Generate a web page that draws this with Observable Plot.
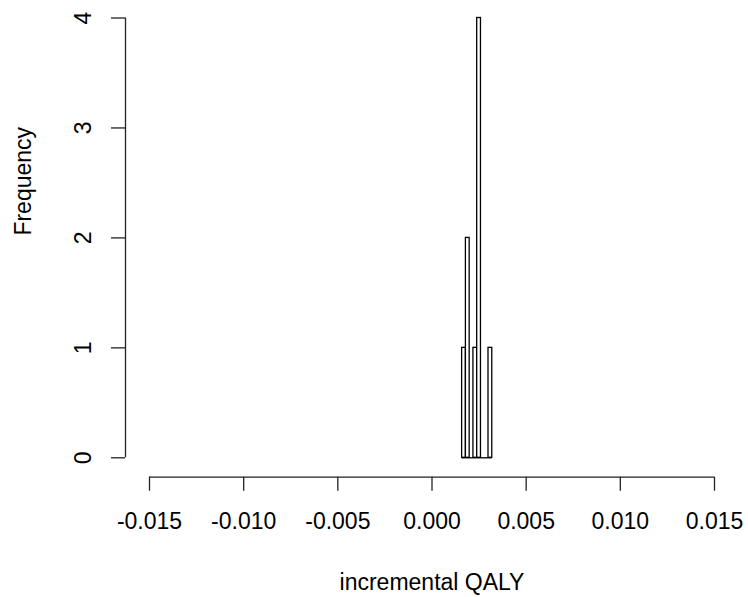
<!DOCTYPE html>
<html>
<head>
<meta charset="utf-8">
<script src="https://cdn.jsdelivr.net/npm/d3@7"></script>
<script src="https://cdn.jsdelivr.net/npm/@observablehq/plot@0.6"></script>
<style>
  html, body { margin: 0; padding: 0; background: #fff; }
  #chart svg { display: block; }
</style>
</head>
<body>
<div id="chart"></div>
<script>
// Histogram data
const breaks = [0.0016, 0.0018, 0.0020, 0.0022, 0.0024, 0.0026, 0.0028, 0.0030, 0.0032];
const counts = [1, 2, 0, 1, 4, 0, 0, 1];
const xTicks = [-0.015, -0.010, -0.005, 0.000, 0.005, 0.010, 0.015];
const yTicks = [0, 1, 2, 3, 4];
const xLabel = "incremental QALY";
const yLabel = "Frequency";

const bins = counts.map((c, i) => ({x1: breaks[i], x2: breaks[i + 1], count: c}));

const font = "Liberation Sans, Arial, sans-serif";
const fs = 23;
const axisGapX = 24;   // R-style detached axes
const axisGapY = 19.4;

const chart = Plot.plot({
  width: 748,
  height: 597,
  marginLeft: 125,
  marginRight: 34,
  marginTop: 17.5,
  marginBottom: 120.3,
  style: {fontFamily: font, fontSize: fs + "px", color: "black", background: "white"},
  x: {domain: [xTicks[0], xTicks[xTicks.length - 1]], insetLeft: axisGapX},
  y: {domain: [yTicks[0], yTicks[yTicks.length - 1]], insetBottom: axisGapY},
  marks: [
    Plot.rectY(bins, {x1: "x1", x2: "x2", y1: 0, y2: "count", fill: "white", stroke: "black", strokeWidth: 1.3}),
    Plot.ruleY([0], {x1: breaks[0], x2: breaks[breaks.length - 1], stroke: "black", strokeWidth: 1.3}),
    // x axis
    Plot.ruleY([yTicks[0]], {x1: xTicks[0], x2: xTicks[xTicks.length - 1], dy: axisGapY, stroke: "#222", strokeWidth: 1.3}),
    Plot.axisX({ticks: xTicks, tickSize: 14, tickPadding: 21, tickFormat: d => d.toFixed(3),
      fontSize: fs, fontFamily: font, label: null, stroke: "#222", strokeWidth: 1.3}),
    // y axis
    Plot.ruleX([xTicks[0]], {y1: yTicks[0], y2: yTicks[yTicks.length - 1], dx: -axisGapX, stroke: "#222", strokeWidth: 1.3}),
    Plot.axisY({ticks: yTicks, tickSize: 14, tickPadding: 21, tickRotate: -90, tickFormat: d => String(d),
      fontSize: fs, fontFamily: font, label: null, stroke: "#222", strokeWidth: 1.3}),
    // titles
    Plot.text([xLabel], {x: (xTicks[0] + xTicks[xTicks.length - 1]) / 2, frameAnchor: "bottom", dy: 113,
      lineAnchor: "bottom", fontSize: fs, fontFamily: font, fill: "black"}),
    Plot.text([yLabel], {frameAnchor: "left", dx: -95, dy: -12, rotate: -90, lineAnchor: "bottom",
      fontSize: fs, fontFamily: font, fill: "black"})
  ]
});
document.getElementById("chart").appendChild(chart);
</script>
</body>
</html>
